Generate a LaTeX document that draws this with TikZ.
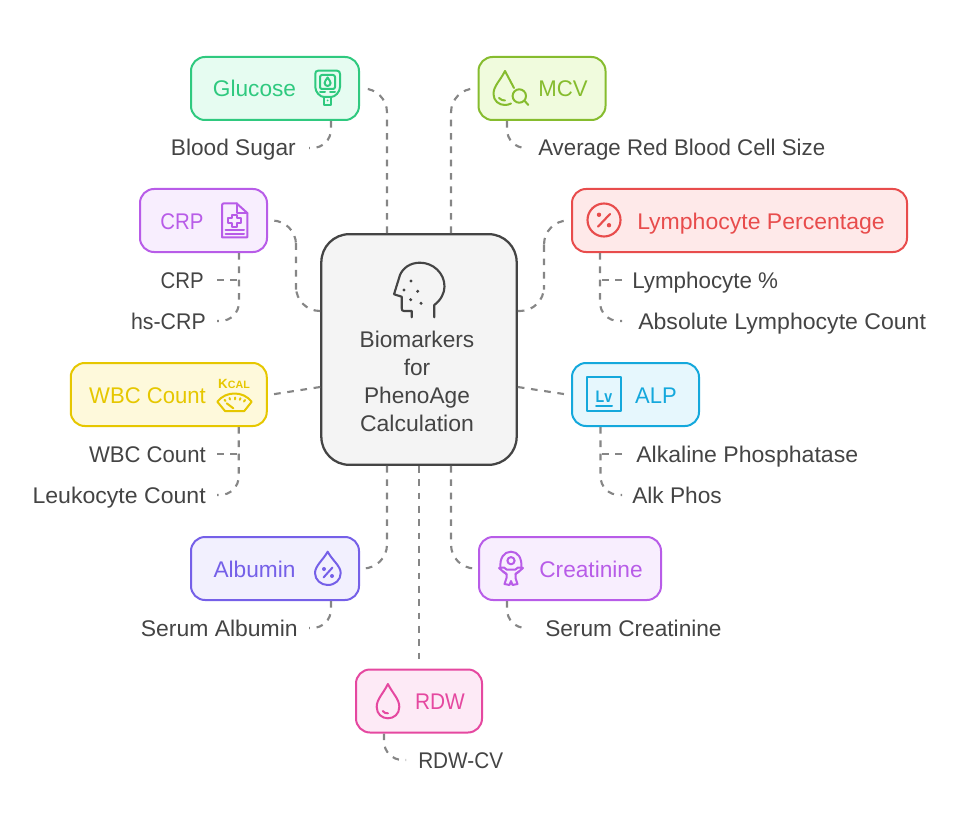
\documentclass[tikz,border=0pt]{standalone}
\usepackage{fontspec}
\usepackage{graphicx}
\setmainfont{Liberation Sans}
\usetikzlibrary{calc}
\newcommand{\sx}[2]{\scalebox{#1}[1]{#2}}
\definecolor{ink}{HTML}{444444}
\definecolor{dashc}{HTML}{868686}
\definecolor{gS}{HTML}{2FC97F}\definecolor{gF}{HTML}{E6FCF1}
\definecolor{pS}{HTML}{B85CE8}\definecolor{pF}{HTML}{F8EEFE}
\definecolor{mS}{HTML}{86BC2E}\definecolor{mF}{HTML}{F0FBDD}
\definecolor{rS}{HTML}{E84C4C}\definecolor{rF}{HTML}{FEE9E9}
\definecolor{yS}{HTML}{E6C700}\definecolor{yF}{HTML}{FEF9DB}
\definecolor{bS}{HTML}{14A8DC}\definecolor{bF}{HTML}{E6F7FD}
\definecolor{vS}{HTML}{7560E8}\definecolor{vF}{HTML}{F2F0FE}
\definecolor{kS}{HTML}{E548A0}\definecolor{kF}{HTML}{FDEAF6}
\tikzset{
  pill/.style 2 args={draw=#1,fill=#2,line width=1.5pt,rounded corners=10.5pt,minimum height=47.25pt,inner sep=0pt,text=#1},
  hubbox/.style={draw=ink,fill=black!4.5,line width=1.7pt,rounded corners=21pt,minimum width=146.5pt,minimum height=173pt,inner sep=0pt},
  txt/.style={font=\fontsize{17}{20}\selectfont,inner sep=0pt,text=ink},
  boxtxt/.style={font=\fontsize{17}{20}\selectfont,inner sep=0pt,text=#1,anchor=base},
  link/.style={draw=dashc,line width=1.6pt,dash pattern=on 5pt off 5pt,rounded corners=18pt},
  sublink/.style={link,rounded corners=14pt},
  branch/.style={draw=dashc,line width=1.6pt,dash pattern=on 5pt off 5pt},
  icon/.style={line width=1.5pt,line cap=round,line join=round},
}
\begin{document}
\begin{tikzpicture}[x=0.75pt,y=-0.75pt]
\useasboundingbox (0,0) rectangle (964,831);
% hub ports are taken from the hub, so the connectors are drawn first and the boxes keep their outline
\node[pill={gS}{gF},minimum width=126pt] (glucose) at (275,88.5) {};
\node[pill={pS}{pF},minimum width=95.25pt] (crp) at (203.5,220.5) {};
\node[pill={yS}{yF},minimum width=147pt] (wbc) at (168.75,394.5) {};
\node[pill={vS}{vF},minimum width=126pt] (albumin) at (275,568.5) {};
\node[pill={kS}{kF},minimum width=94.5pt] (rdw) at (419,701) {};
\node[pill={pS}{pF},minimum width=136.5pt] (creat) at (570,568.5) {};
\node[pill={bS}{bF},minimum width=95.25pt] (alp) at (635.5,394.5) {};
\node[pill={rS}{rF},minimum width=251.25pt] (lymph) at (739.5,220.5) {};
\node[pill={mS}{mF},minimum width=95.25pt] (mcv) at (542,88.5) {};
\node[hubbox] (hub) at (419,349.5) {};
% box labels
\node[boxtxt=gS] (tglucose) at (254.5,97) {Glucose};
\node[boxtxt=pS] (tcrp) at (182,229) {\sx{.9}{CRP}};
\node[boxtxt=yS] (twbc) at (147.5,403) {\sx{.975}{WBC Count}};
\node[boxtxt=vS] (talbumin) at (254.5,577) {Albumin};
\node[boxtxt=kS] (trdw) at (440,709) {\sx{.92}{RDW}};
\node[boxtxt=pS] (tcreat) at (591,577) {Creatinine};
\node[boxtxt=bS] (talp) at (656,403) {\sx{.97}{ALP}};
\node[boxtxt=rS] (tlymph) at (761,229) {\sx{1.016}{Lymphocyte Percentage}};
\node[boxtxt=mS] (tmcv) at (563,97) {\sx{.98}{MCV}};
% hub text
\node[txt,anchor=base] (h1) at (417,347) {Biomarkers};
\node[txt,anchor=base] (h2) at (417,375) {for};
\node[txt,anchor=base] (h3) at (417,403) {PhenoAge};
\node[txt,anchor=base] (h4) at (417,431) {\sx{1.015}{Calculation}};
% sub labels
\node[txt,anchor=base east] (s1) at (296,156) {Blood Sugar};
\node[txt,anchor=base west] (s2) at (538,156) {\sx{.983}{Average Red Blood Cell Size}};
\node[txt,anchor=base east] (s3) at (204,288) {\sx{.9}{CRP}};
\node[txt,anchor=base east] (s4) at (206,329) {\sx{.94}{hs-CRP}};
\node[txt,anchor=base west] (s5) at (632,288) {\sx{.987}{Lymphocyte \%}};
\node[txt,anchor=base west] (s6) at (638,329) {\sx{1.018}{Absolute Lymphocyte Count}};
\node[txt,anchor=base east] (s7) at (206,462) {\sx{.975}{WBC Count}};
\node[txt,anchor=base east] (s8) at (206,503) {\sx{1.018}{Leukocyte Count}};
\node[txt,anchor=base west] (s9) at (636,462) {\sx{1.018}{Alkaline Phosphatase}};
\node[txt,anchor=base west] (s10) at (632,503) {Alk Phos};
\node[txt,anchor=base east] (s11) at (298,636) {\sx{1.013}{Serum Albumin}};
\node[txt,anchor=base west] (s12) at (545,636) {Serum Creatinine};
\node[txt,anchor=base west] (s13) at (418,768) {\sx{.915}{RDW-CV}};
% hub ports
\coordinate (nl) at ($(hub.north)+(-32,0)$);
\coordinate (nr) at ($(hub.north)+(32,0)$);
\coordinate (sl) at ($(hub.south)+(-32,0)$);
\coordinate (sr) at ($(hub.south)+(32,0)$);
\coordinate (wu) at ($(hub.west)+(0,-38.5)$);
\coordinate (wd) at ($(hub.west)+(0,37.5)$);
\coordinate (eu) at ($(hub.east)+(0,-38.5)$);
\coordinate (ed) at ($(hub.east)+(0,37.5)$);
% main connectors, each drawn outward from the hub
\draw[link] (nl) |- ([xshift=3pt]glucose.east);
\draw[link] (nr) |- ([xshift=-3pt]mcv.west);
\draw[link] (wu) -| ($(crp.east)+(28,45)$) |- ([xshift=5pt]crp.east);
\draw[link] (eu) -| ($(lymph.west)+(-27,45)$) |- ([xshift=-3pt]lymph.west);
\draw[link] (wd) -- ([xshift=3pt]wbc.east);
\draw[link] (ed) -- ([xshift=-3pt]alp.west);
\draw[link] (sl) |- ([xshift=3pt]albumin.east);
\draw[link] (sr) |- ([xshift=-3pt]creat.west);
\draw[link] (hub.south) -- ([yshift=2.5pt]rdw.north);
% sub connectors
\coordinate (a1) at (309,148);
\coordinate (a2) at (528,148);
\coordinate (a3) at (217,280);
\coordinate (a4) at (217,321);
\coordinate (a5) at (622,280);
\coordinate (a6) at (622,321);
\coordinate (a7) at (217,454);
\coordinate (a8) at (217,495);
\coordinate (a9) at (622,454);
\coordinate (a10) at (622,495);
\coordinate (a11) at (309,628);
\coordinate (a12) at (528,628);
\coordinate (a13) at (406,760);
\coordinate (vcrp) at ($(crp.south)+(35.5,0)$);
\coordinate (vlym) at ($(lymph.south)+(-139.5,0)$);
\coordinate (vwbc) at ($(wbc.south)+(70,0)$);
\coordinate (valp) at ($(alp.south)+(-35,0)$);
\draw[sublink] ($(glucose.south)+(56,0)$) |- (a1);
\draw[sublink] ($(mcv.south)+(-35,0)$) |- (a2);
\draw[sublink] (vcrp) |- (a4);
\draw[branch] (a3) -- (a3 -| vcrp);
\draw[sublink] (vlym) |- (a6);
\draw[branch] (a5) -- (a5 -| vlym);
\draw[sublink] (vwbc) |- (a8);
\draw[branch] (a7) -- (a7 -| vwbc);
\draw[sublink] (valp) |- (a10);
\draw[branch] (a9) -- (a9 -| valp);
\draw[sublink] ($(albumin.south)+(56,0)$) |- (a11);
\draw[sublink] ($(creat.south)+(-63,0)$) |- (a12);
\draw[sublink] ($(rdw.south)+(-35,0)$) |- (a13);
% --- icons ---
% head
\draw[icon,ink,line width=1.6pt] (434.3,317.3) -- (434.3,305) .. controls (441,300) and (444.5,293) .. (444.5,286.5) .. controls (444.5,273) and (433,262.7) .. (420,262.7) .. controls (410,262.7) and (403,268) .. (400,275) -- (394,294.3) -- (401.7,296.7) -- (401.7,308) .. controls (401.7,310) and (402,311) .. (404,311) -- (411.7,311) -- (411.7,317.3);
\foreach \p in {(411,281),(404,290),(417.7,291.3),(410.7,299.7),(421,303.3)} \fill[ink] \p circle[radius=1.7];
% glucose meter
\begin{scope}[icon,gS]
\draw (318,70.7) -- (337,70.7) .. controls (339,70.7) and (340,72) .. (340,74) -- (340,87) .. controls (340,92) and (335,97) .. (331,97) -- (324,97) .. controls (320,97) and (315.3,92) .. (315.3,87) -- (315.3,74) .. controls (315.3,72) and (316,70.7) .. (318,70.7) -- cycle;
\draw[rounded corners=1.5pt] (320,75) rectangle (335,89);
\draw (327.6,77.5) .. controls (326,80) and (324.6,81.5) .. (324.6,83) .. controls (324.6,84.6) and (326,86) .. (327.6,86) .. controls (329.2,86) and (330.6,84.6) .. (330.6,83) .. controls (330.6,81.5) and (329,80) .. (327.6,77.5) -- cycle;
\draw (320,92.3) -- (325,92.3) (330,92.3) -- (335,92.3);
\draw (324,96.7) rectangle (331.3,105.3);
\fill (327.6,100.5) circle[radius=1];
\end{scope}
% crp document
\begin{scope}[icon,pS]
\draw (222,205) .. controls (222,204) and (223,203.3) .. (224,203.3) -- (236.5,203.3) -- (247.3,213) -- (247.3,237.3) -- (222,237.3) -- cycle;
\draw (236.5,203.3) -- (236.5,213) -- (247.3,213);
\draw (231.5,215) -- (237,215) -- (237,218.3) -- (240.5,218.3) -- (240.5,223.5) -- (237,223.5) -- (237,227) -- (231.5,227) -- (231.5,223.5) -- (228,223.5) -- (228,218.3) -- (231.5,218.3) -- cycle;
\draw (225.5,230.5) -- (244,230.5) (225.5,234.3) -- (244,234.3);
\end{scope}
% mcv
\begin{scope}[icon,mS]
\draw (505,71) .. controls (500,81) and (493.5,86) .. (493.5,94) .. controls (493.5,101) and (499,105) .. (505,105) .. controls (507,105) and (509,104.5) .. (511,103.5);
\draw (505,71) -- (514,88);
\draw (499,98) .. controls (501,100) and (503,100.5) .. (505,100.5);
\draw (519.3,96) circle[radius=6.7];
\draw (524.3,100.5) -- (528.3,105);
\end{scope}
% lymph percent
\begin{scope}[icon,rS,line width=1.6pt]
\draw (604,220) circle[radius=16.5];
\draw (598,226.7) -- (610,214);
\fill (599,214.8) circle[radius=2.2];
\fill (609,225.2) circle[radius=2.2];
\end{scope}
% alp
\begin{scope}[icon,bS]
\draw (586.7,377.3) rectangle (621.3,411.3);
\node[inner sep=0pt,anchor=base,text=bS,font=\bfseries\fontsize{12.5}{14}\selectfont] (lv) at (604,402) {\sx{.85}{Lv}};
\draw (596,405.5) -- (612,405.5);
\end{scope}
% wbc scale
\begin{scope}[icon,yS]
\node[inner sep=0pt,anchor=base,text=yS,font=\bfseries] (kcal) at (234,388.5) {\fontsize{10}{10}\selectfont K\fontsize{8}{8}\selectfont CAL};
\draw (225,411) -- (217.3,401.7) .. controls (222,396) and (228,393.5) .. (234.5,393.5) .. controls (241,393.5) and (247,396) .. (251.7,401.7) -- (244.3,411) -- cycle;
\draw (226.7,403.3) -- (233.3,408.3);
\draw (224.5,399.8) -- (225.5,401) (229.5,398) -- (230,399.5) (235,397.5) -- (235,399.3) (240.5,398.2) -- (239.8,399.8) (245,400) -- (244,401.5);
\end{scope}
% albumin drop
\begin{scope}[icon,vS]
\draw (327.7,551.7) .. controls (323,560) and (315,566) .. (315,573) .. controls (315,580) and (321,585) .. (327.7,585) .. controls (335,585) and (340.7,580) .. (340.7,573) .. controls (340.7,566) and (332,560) .. (327.7,551.7) -- cycle;
\draw (323.5,577.5) -- (332.5,567.5);
\fill (324,569) circle[radius=2];
\fill (332,576) circle[radius=2];
\end{scope}
% creatinine child
\begin{scope}[icon,pS]
\draw (511,560.7) circle[radius=3.6];
\draw (500.5,568) .. controls (499.5,558) and (504,551.7) .. (511,551.7) .. controls (518,551.7) and (522,558) .. (521.5,568);
\draw (503,571.5) -- (506.5,574) -- (506.5,578) -- (504.5,584) -- (509.5,585) -- (511,581) -- (512.5,585) -- (517.5,584) -- (515.5,578) -- (515.5,574) -- (519,571.5);
\draw (499,568) -- (504,567.5) -- (506.5,569.5) -- (515.5,569.5) -- (518,567.5) -- (523,568) -- (519,571.5) -- (515.5,574) (506.5,574) -- (503,571.5) -- (499,568);
\end{scope}
% rdw drop
\begin{scope}[icon,kS]
\draw (387.9,684) .. controls (383,694) and (376.7,699) .. (376.7,707) .. controls (376.7,714) and (382,718.3) .. (387.9,718.3) .. controls (394,718.3) and (399.3,714) .. (399.3,707) .. controls (399.3,699) and (393,694) .. (387.9,684) -- cycle;
\draw (382.7,711) .. controls (384,713) and (386,713.3) .. (388,713.3);
\end{scope}
\end{tikzpicture}
\end{document}
